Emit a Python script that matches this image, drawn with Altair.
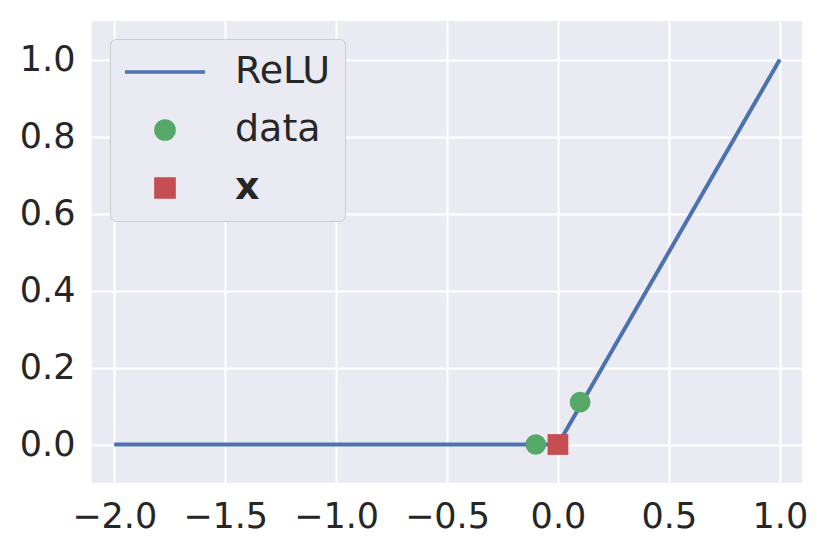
import altair as alt
import pandas as pd

# ---- data ----
relu_x = [-2.0, 0.0, 1.0]
relu_y = [0.0, 0.0, 1.0]
data_x = [-0.1, 0.1]
data_y = [0.0, 0.11]
xpt_x = [0.0]
xpt_y = [0.0]
series = ["ReLU", "data", "x"]
colors = ["#4C72B0", "#55A868", "#C44E52"]
x_ticks = [-2.0, -1.5, -1.0, -0.5, 0.0, 0.5, 1.0]
y_ticks = [0.0, 0.2, 0.4, 0.6, 0.8, 1.0]
x_domain = [-2.1, 1.1]
y_domain = [-0.1, 1.1]

relu_df = pd.DataFrame({"x": relu_x, "y": relu_y, "series": "ReLU"})
data_df = pd.DataFrame({"x": data_x, "y": data_y, "series": "data"})
xpt_df = pd.DataFrame({"x": xpt_x, "y": xpt_y, "series": "x"})

FONT = "DejaVu Sans"
TXT = "#262626"

legend = alt.Legend(
    title=None,
    orient="top-left",
    offset=18,
    padding=14,
    rowPadding=20,
    labelFontSize=38,
    labelFont=FONT,
    labelColor=TXT,
    labelOffset=51,
    symbolOffset=22,
    labelFontWeight=alt.ExprRef(expr="datum.value === 'x' ? 'bold' : 'normal'"),
    symbolType=alt.ExprRef(expr="datum.value === 'ReLU' ? 'stroke' : (datum.value === 'data' ? 'circle' : 'square')"),
    symbolSize=alt.ExprRef(expr="datum.value === 'ReLU' ? 6400 : 330"),
    symbolFillColor=alt.ExprRef(expr="datum.value === 'ReLU' ? 'transparent' : (datum.value === 'data' ? '#55A868' : '#C44E52')"),
    symbolStrokeColor=alt.ExprRef(expr="datum.value === 'ReLU' ? '#4C72B0' : (datum.value === 'data' ? '#55A868' : '#C44E52')"),
    symbolStrokeWidth=3.5,
    symbolOpacity=1,
    fillColor="#EAEAF2",
    strokeColor="#CCCCCC",
    cornerRadius=6,
)

color = alt.Color("series:N", scale=alt.Scale(domain=series, range=colors), legend=legend)

xenc = alt.X("x:Q", scale=alt.Scale(domain=x_domain, nice=False, zero=False),
             axis=alt.Axis(values=x_ticks, format=".1f", title=None, labelPadding=16))
yenc = alt.Y("y:Q", scale=alt.Scale(domain=y_domain, nice=False, zero=False),
             axis=alt.Axis(values=y_ticks, format=".1f", title=None, labelPadding=17))

line = alt.Chart(relu_df).mark_line(strokeWidth=4, opacity=1).encode(x=xenc, y=yenc, color=color)
dots = alt.Chart(data_df).mark_circle(size=430, opacity=1).encode(x=xenc, y=yenc, color=color)
sq = alt.Chart(xpt_df).mark_square(size=430, opacity=1).encode(x=xenc, y=yenc, color=color)

chart = (
    alt.layer(line, dots, sq)
    .properties(width=710, height=462, padding={"left": 11, "top": 13, "right": 10, "bottom": 5})
    .configure_view(fill="#EAEAF2", stroke=None)
    .configure_axis(
        grid=True, gridColor="white", gridWidth=2, gridOpacity=1,
        domain=False, ticks=False,
        labelFont=FONT, labelFontSize=35, labelColor=TXT,
    )
)

chart.save("out.html", embed_options={"renderer": "svg", "actions": False})
